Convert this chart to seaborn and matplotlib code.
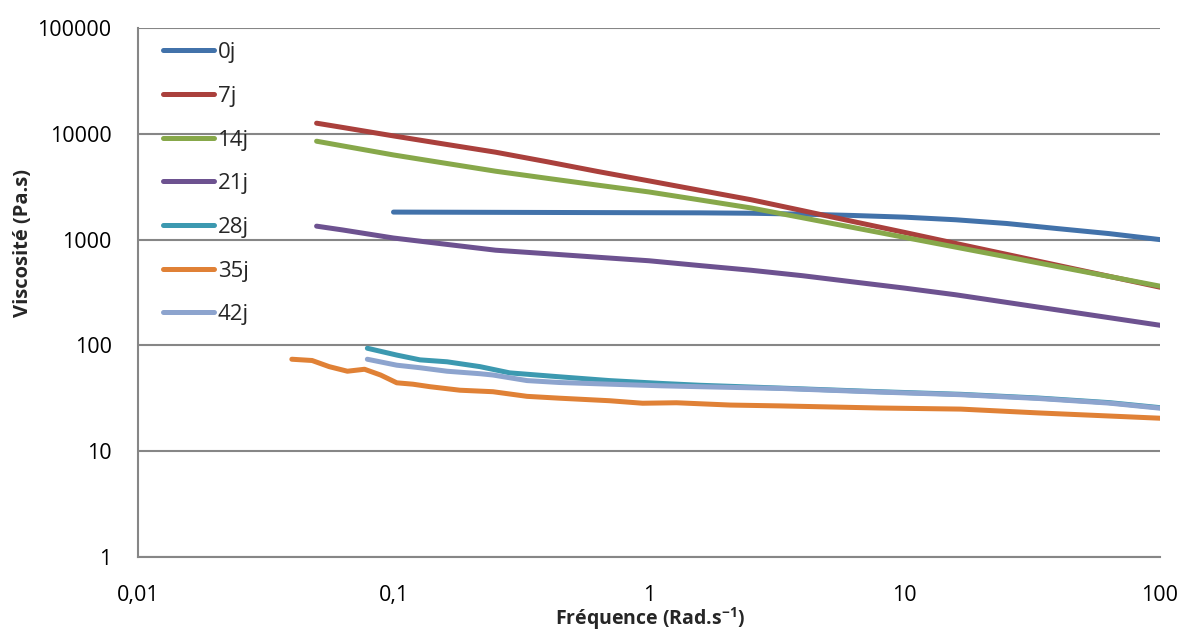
import pandas as pd
import matplotlib
matplotlib.use("Agg")
import matplotlib.pyplot as plt
import seaborn as sns
from matplotlib.ticker import FixedLocator, NullLocator

# Frequences (rad/s) et viscosites (Pa.s)
freq = [0.05, 0.063, 0.1, 0.158, 0.251, 0.398, 0.631, 1, 1.585, 2.512,
        3.981, 6.31, 10, 15.85, 25.12, 39.81, 63.1, 100]

freq_0j = freq[2:]
visc_0j = [1820, 1815, 1810, 1805, 1800, 1795, 1790, 1775, 1740, 1690,
           1630, 1540, 1420, 1270, 1140, 1000]

visc_7j = [12600, 11500, 9550, 8000, 6700, 5450, 4400, 3590, 2920, 2380,
           1880, 1480, 1170, 920, 725, 571, 450, 355]
visc_14j = [8510, 7700, 6310, 5290, 4430, 3800, 3270, 2820, 2370, 1990,
            1610, 1300, 1050, 849, 687, 555, 449, 363]
visc_21j = [1340, 1235, 1035, 907, 794, 736, 681, 631, 568, 513,
            456, 398, 348, 301, 255, 216, 183, 155]

freq_28j = [0.079, 0.103, 0.127, 0.162, 0.218, 0.285, 0.446, 0.70, 1.12,
            1.58, 3.26, 8.0, 16.6, 33.5, 63.1, 100]
visc_28j = [94, 81, 73, 70, 63, 55, 50.5, 46.5, 43.7, 42, 39.5, 36.5,
            34.5, 31.8, 28.8, 25.8]

freq_35j = [0.04, 0.048, 0.056, 0.066, 0.077, 0.089, 0.103, 0.119, 0.139,
            0.182, 0.245, 0.333, 0.446, 0.70, 0.944, 1.28, 2.08, 3.26,
            8.0, 16.6, 33.5, 100]
visc_35j = [74, 72, 63, 57, 59.5, 52.5, 44.3, 43, 40.7, 37.7, 36.5, 33,
            31.7, 30, 28.4, 28.7, 27.3, 26.8, 25.6, 25, 23, 20.5]

freq_42j = [0.079, 0.103, 0.127, 0.162, 0.218, 0.245, 0.333, 0.446, 0.70,
            1.12, 1.58, 3.26, 8.0, 16.6, 33.5, 63.1, 100]
visc_42j = [74, 65, 61.5, 57, 54, 52.5, 46.5, 44.6, 43, 41.5, 40.7, 39.2,
            36.2, 34.2, 31.5, 28.5, 25.5]

series = ["0j", "7j", "14j", "21j", "28j", "35j", "42j"]
colors = ["#4272AA", "#AA403C", "#87A84A", "#6D5290", "#3C99B0", "#E08136", "#8DA4CE"]

xticks = [0.01, 0.1, 1, 10, 100]
xtick_labels = ["0,01", "0,1", "1", "10", "100"]
yticks = [1, 10, 100, 1000, 10000, 100000]
ytick_labels = ["1", "10", "100", "1000", "10000", "100000"]

# tableau long pour seaborn
parts = [
    (freq_0j, visc_0j, "0j"),
    (freq, visc_7j, "7j"),
    (freq, visc_14j, "14j"),
    (freq, visc_21j, "21j"),
    (freq_28j, visc_28j, "28j"),
    (freq_35j, visc_35j, "35j"),
    (freq_42j, visc_42j, "42j"),
]
df = pd.concat(
    [pd.DataFrame({"freq": f, "visc": v, "serie": s}) for f, v, s in parts],
    ignore_index=True,
)

sns.set_style("white")
plt.rcParams["font.family"] = ["Open Sans", "DejaVu Sans"]
plt.rcParams["mathtext.fontset"] = "custom"
plt.rcParams["mathtext.bf"] = "Open Sans:bold"
plt.rcParams["mathtext.default"] = "bf"

fig = plt.figure(figsize=(11.82, 6.31), dpi=100)
ax = fig.add_axes([138 / 1182, 1 - 557 / 631, 1022 / 1182, 529 / 631])

sns.lineplot(data=df, x="freq", y="visc", hue="serie", hue_order=series,
             palette=colors, estimator=None, sort=False, linewidth=3.6,
             solid_capstyle="round", solid_joinstyle="round", ax=ax)

ax.set_xscale("log")
ax.set_yscale("log")
ax.set_xlim(0.01, 100)
ax.set_ylim(1, 100000)
ax.xaxis.set_major_locator(FixedLocator(xticks))
ax.xaxis.set_minor_locator(NullLocator())
ax.yaxis.set_major_locator(FixedLocator(yticks))
ax.yaxis.set_minor_locator(NullLocator())
ax.set_xticklabels(xtick_labels)
ax.set_yticklabels(ytick_labels)
ax.tick_params(axis="both", length=0, labelsize=15.5, colors="black")
ax.tick_params(axis="y", pad=19)
ax.tick_params(axis="x", pad=20.5)

ax.yaxis.grid(True, color="#868686", linewidth=1.5)
ax.set_axisbelow(True)
for side in ["top", "right"]:
    ax.spines[side].set_visible(False)
for side in ["left", "bottom"]:
    ax.spines[side].set_color("#868686")
    ax.spines[side].set_linewidth(1.5)

ax.set_xlabel("Fréquence (Rad.s$^{-1}$)", fontsize=14, fontweight="bold")
ax.set_ylabel("Viscosité (Pa.s)", fontsize=14.5, fontweight="bold")
ax.xaxis.set_label_coords(0.501, -0.1285)
ax.xaxis.label.set_va("baseline")
ax.yaxis.set_label_coords(-0.1125, 0.594)
ax.yaxis.label.set_va("center")

handles, labels = ax.get_legend_handles_labels()
leg = ax.legend(handles, labels, loc="upper left", bbox_to_anchor=(0.016, 0.99),
                frameon=False, fontsize=16, handlelength=2.3,
                handletextpad=0.15, labelspacing=1.02, borderaxespad=0)
for line in leg.get_lines():
    line.set_linewidth(3.6)
    line.set_solid_capstyle("round")

fig.savefig("out.png", dpi=100)
